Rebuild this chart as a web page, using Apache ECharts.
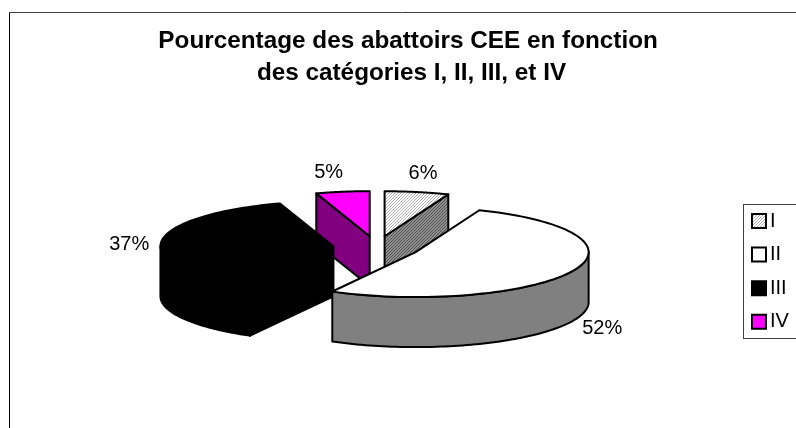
<!DOCTYPE html>
<html>
<head>
<meta charset="utf-8">
<script src="https://cdn.jsdelivr.net/npm/echarts@6/dist/echarts.min.js"></script>
<style>
	html, body { margin: 0; padding: 0; background: #fff; }
	#main { width: 796px; height: 428px; }
</style>
</head>
<body>
<div id="main"></div>
<script>
	var categories = ['I', 'II', 'III', 'IV'];
	var percents = [6, 52, 37, 5];
	var titleLines = ['Pourcentage des abattoirs CEE en fonction ', 'des catégories I, II, III, et IV'];

	// 3D pie geometry, Excel look
	var baseX = 376.5, baseY = 247.3, rx = 173, ry = 45, depth = 50, explode = 0.25;
	var labelShift = [[6, -19], [30, 57], [-32, 2], [-14, -19]];
	var drawOrder = [2, 4, 3, 2];

	// small hatch fill used by slice I
	function hatch(bg, fg) {
		var c = document.createElement('canvas');
		c.width = 3;
		c.height = 3;
		var ctx = c.getContext('2d');
		ctx.fillStyle = bg;
		ctx.fillRect(0, 0, 3, 3);
		ctx.fillStyle = fg;
		for (var i = 0; i < 3; i++) {
			ctx.fillRect(i, 2 - i, 1, 1);
		}
		return { image: c, repeat: 'repeat' };
	}

	var topFill = [hatch('#ffffff', '#b0b0b0'), '#ffffff', '#000000', '#ff00ff'];
	var sideFill = [hatch('#909090', '#505050'), '#808080', '#000000', '#800080'];

	var total = percents.reduce(function (a, b) { return a + b; }, 0);

	function startAngle(idx) {
		var sum = 0;
		for (var i = 0; i < idx; i++) sum += percents[i];
		return sum / total * Math.PI * 2;
	}

	function renderSlice(idx) {
		return function (params, api) {
			var a0 = startAngle(idx);
			var a1 = a0 + api.value(0) / total * Math.PI * 2;
			var mid = (a0 + a1) / 2;
			var cx = baseX + Math.sin(mid) * explode * rx;
			var cy = baseY - Math.cos(mid) * explode * ry;
			var at = function (a, dy) {
				return [cx + Math.sin(a) * rx, cy - Math.cos(a) * ry + (dy || 0)];
			};
			var line = { stroke: '#000', lineWidth: 2, lineJoin: 'round' };
			var kids = [];
			var i, a;

			// radial faces that look to the viewer
			var face = function (a) {
				kids.push({
					type: 'polygon',
					shape: { points: [[cx, cy], at(a), at(a, depth), [cx, cy + depth]] },
					style: Object.assign({ fill: sideFill[idx] }, line)
				});
			};
			if (Math.sin(a0) < 0) face(a0);
			if (Math.sin(a1) > 0) face(a1);

			// outer wall, only the front half of the ellipse
			var w0 = Math.max(a0, Math.PI / 2), w1 = Math.min(a1, Math.PI * 3 / 2);
			if (w1 > w0) {
				var upper = [], lower = [];
				for (i = 0; i <= 80; i++) {
					a = w0 + (w1 - w0) * i / 80;
					upper.push(at(a));
					lower.unshift(at(a, depth));
				}
				kids.push({
					type: 'polygon',
					shape: { points: upper.concat(lower) },
					style: Object.assign({ fill: sideFill[idx] }, line)
				});
			}

			// top face
			var pts = [[cx, cy]];
			for (i = 0; i <= 80; i++) {
				pts.push(at(a0 + (a1 - a0) * i / 80));
			}
			kids.push({
				type: 'polygon',
				shape: { points: pts },
				style: Object.assign({ fill: topFill[idx] }, line)
			});

			var anchor = at(mid);
			kids.push({
				type: 'text',
				style: {
					x: anchor[0] + labelShift[idx][0],
					y: anchor[1] + labelShift[idx][1],
					text: api.value(0) + '%',
					fill: '#000',
					font: '20px "Liberation Sans", Arial, sans-serif',
					textAlign: 'center',
					textVerticalAlign: 'middle'
				}
			});
			return { type: 'group', children: kids };
		};
	}

	var option = {
		animation: false,
		backgroundColor: '#ffffff',
		title: {
			text: titleLines.join('\n'),
			left: 411.5,
			top: 25,
			padding: 0,
			textAlign: 'center',
			textStyle: {
				color: '#000',
				fontFamily: '"Liberation Sans", Arial, sans-serif',
				fontWeight: 'bold',
				fontSize: 24.3,
				lineHeight: 32
			}
		},
		graphic: [
			// chart frame and legend box run off the page on the right
			{ type: 'line', shape: { x1: 9.5, y1: 12, x2: 9.5, y2: 428 }, style: { stroke: '#000', lineWidth: 1 } },
			{ type: 'line', shape: { x1: 9, y1: 12.5, x2: 796, y2: 12.5 }, style: { stroke: '#404040', lineWidth: 1 } },
			{ type: 'line', shape: { x1: 743.5, y1: 204, x2: 743.5, y2: 339 }, style: { stroke: '#404040', lineWidth: 1 } },
			{ type: 'line', shape: { x1: 743, y1: 204.5, x2: 796, y2: 204.5 }, style: { stroke: '#404040', lineWidth: 1 } },
			{ type: 'line', shape: { x1: 743, y1: 338.5, x2: 796, y2: 338.5 }, style: { stroke: '#404040', lineWidth: 1 } }
		],
		legend: {
			orient: 'vertical',
			left: 751,
			top: 211,
			padding: 0,
			itemWidth: 14,
			itemHeight: 14,
			itemGap: 13.6,
			icon: 'rect',
			selectedMode: false,
			textStyle: {
				color: '#000',
				fontFamily: '"Liberation Sans", Arial, sans-serif',
				fontSize: 20,
				padding: [0, 0, 0, -1]
			},
			data: categories.map(function (name, i) {
				return {
					name: name,
					itemStyle: { color: topFill[i], borderColor: '#000', borderWidth: 2 }
				};
			})
		},
		series: categories.map(function (name, i) {
			return {
				type: 'custom',
				name: name,
				coordinateSystem: 'none',
				z: drawOrder[i],
				silent: true,
				itemStyle: { color: topFill[i] },
				renderItem: renderSlice(i),
				data: [[percents[i]]]
			};
		})
	};

	var myChart = echarts.init(document.getElementById('main'));
	myChart.setOption(option);
</script>
</body>
</html>
